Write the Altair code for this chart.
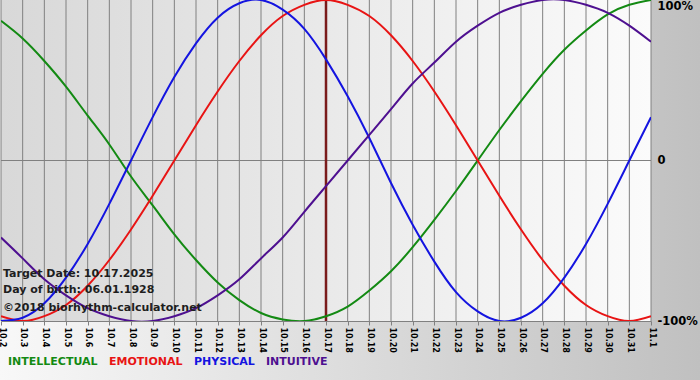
import altair as alt
import pandas as pd

dates = ["10.2", "10.3", "10.4", "10.5", "10.6", "10.7", "10.8", "10.9", "10.10", "10.11",
         "10.12", "10.13", "10.14", "10.15", "10.16", "10.17", "10.18", "10.19", "10.20",
         "10.21", "10.22", "10.23", "10.24", "10.25", "10.26", "10.27", "10.28", "10.29",
         "10.30", "10.31", "11.1"]

intellectual = [0.87, 0.76, 0.62, 0.46, 0.28, 0.10, -0.10, -0.28, -0.46, -0.62, -0.76, -0.87,
                -0.95, -0.99, -1.0, -0.97, -0.91, -0.81, -0.69, -0.54, -0.37, -0.19, 0.0, 0.19,
                0.37, 0.54, 0.69, 0.81, 0.91, 0.97, 1.0]
emotional = [-0.97, -1.0, -0.97, -0.90, -0.78, -0.62, -0.43, -0.22, 0.0, 0.22, 0.43, 0.62, 0.78,
             0.90, 0.97, 1.0, 0.97, 0.90, 0.78, 0.62, 0.43, 0.22, 0.0, -0.22, -0.43, -0.62, -0.78,
             -0.90, -0.97, -1.0, -0.97]
physical = [-1.0, -0.98, -0.89, -0.73, -0.52, -0.27, 0.0, 0.27, 0.52, 0.73, 0.89, 0.98, 1.0, 0.94,
            0.82, 0.63, 0.40, 0.14, -0.14, -0.40, -0.63, -0.82, -0.94, -1.0, -0.98, -0.89, -0.73,
            -0.52, -0.27, 0.0, 0.27]
intuitive = [-0.48, -0.61, -0.74, -0.84, -0.92, -0.97, -1.0, -1.0, -0.97, -0.92, -0.84, -0.74,
             -0.61, -0.48, -0.32, -0.16, 0.0, 0.16, 0.32, 0.48, 0.61, 0.74, 0.84, 0.92, 0.97, 1.0,
             1.0, 0.97, 0.92, 0.84, 0.74]

series_names = ["INTELLECTUAL", "EMOTIONAL", "PHYSICAL", "INTUITIVE"]
series_colors = ["#138a13", "#e81414", "#1414e0", "#4e1090"]
series_values = [intellectual, emotional, physical, intuitive]

target_label = "10.17"
y_ticks = [-1, 0, 1]
y_tick_labels = ["-100%", "0", "100%"]
info_lines = ["Target Date: 10.17.2025", "Day of birth: 06.01.1928", "\u00a92018 biorhythm-calculator.net"]

rows = []
for name, vals in zip(series_names, series_values):
    for i, (d, v) in enumerate(zip(dates, vals)):
        rows.append({"date": d, "idx": i, "value": v, "series": name})
df = pd.DataFrame(rows)
grid_df = pd.DataFrame({"date": dates})
target_df = pd.DataFrame({"date": [target_label]})
one = pd.DataFrame({"a": [0]})

FONT = "DejaVu Sans"

x_enc = alt.X(
    "date:O",
    sort=dates,
    scale=alt.Scale(type="point", domain=dates, padding=0),
    axis=alt.Axis(
        title=None, grid=False, labelAngle=90, labelAlign="left", labelBaseline="middle",
        labelPadding=2, tickSize=4, tickColor="#808080", domainColor="#808080",
        labelFont=FONT, labelFontSize=8, labelFontWeight="bold", labelColor="#000000",
        labelOverlap=False, labelBound=False, zindex=1,
    ),
)

label_expr = " : ".join(
    f"datum.value == {v} ? '{t}'" for v, t in zip(y_ticks, y_tick_labels)
) + " : ''"

y_scale = alt.Scale(domain=[-1, 1], nice=False, zero=False)
y_enc = alt.Y(
    "value:Q",
    scale=y_scale,
    axis=alt.Axis(
        title=None, orient="right", values=y_ticks, labelExpr=label_expr, grid=False,
        ticks=False, domain=False, labelPadding=6, labelFont=FONT, labelFontSize=11.5,
        labelFontWeight="bold", labelColor="#000000", zindex=1, labelOffset=0,
        labelBaseline={"condition": {"test": "datum.value == 1", "value": "top"}, "value": "middle"},
    ),
)

outer_bg = alt.Chart(one).mark_rect(
    color=alt.LinearGradient(
        gradient="linear", x1=0, x2=1, y1=0, y2=0,
        stops=[alt.GradientStop(color="#f8f8f8", offset=0), alt.GradientStop(color="#c0c0c0", offset=1)],
    )
).encode(x=alt.value(-1), x2=alt.value(699), y=alt.value(0), y2=alt.value(380))

plot_bg = alt.Chart(one).mark_rect(
    color=alt.LinearGradient(
        gradient="linear", x1=0, x2=1, y1=0, y2=0,
        stops=[alt.GradientStop(color="#d8d8d8", offset=0), alt.GradientStop(color="#fbfbfb", offset=1)],
    )
).encode(x=alt.value(0), x2=alt.value("width"), y=alt.value(0), y2=alt.value("height"))

grid = alt.Chart(grid_df).mark_rule(color="#808080", strokeWidth=1).encode(x=x_enc)

zero_line = alt.Chart(one).mark_rule(color="#808080", strokeWidth=1).encode(
    y=alt.datum(0, scale=y_scale)
)

marker = alt.Chart(target_df).mark_rule(color="#7a1c1c", strokeWidth=2.5).encode(x=x_enc)

color_expr = " : ".join(
    f"datum.label == '{n}' ? '{c}'" for n, c in zip(series_names[:-1], series_colors[:-1])
) + f" : '{series_colors[-1]}'"

lines = alt.Chart(df).mark_line(strokeWidth=2, interpolate="natural", clip=True).encode(
    x=x_enc,
    y=y_enc,
    color=alt.Color(
        "series:N",
        sort=series_names,
        scale=alt.Scale(domain=series_names, range=series_colors),
        legend=alt.Legend(
            title=None, orient="none", legendX=-4, legendY=356, direction="horizontal",
            symbolSize=0, symbolStrokeWidth=0, symbolOpacity=0, labelOffset=0,
            columnPadding=-3, padding=0, labelFont=FONT, labelFontSize=11,
            labelFontWeight="bold", labelColor=alt.ExprRef(color_expr), labelLimit=0,
        ),
    ),
    order=alt.Order("idx:Q"),
)

def info(text, ypos):
    return alt.Chart(one).mark_text(
        text=text, align="left", baseline="alphabetic", font=FONT, fontSize=11,
        fontWeight="bold", color="#1e1e1e",
    ).encode(x=alt.value(2), y=alt.value(ypos))

texts = info(info_lines[0], 277) + info(info_lines[1], 293) + info(info_lines[2], 311)

chart = alt.layer(outer_bg, plot_bg, grid, zero_line, marker, lines, texts).properties(
    width=650, height=321, autosize="none",
    padding={"left": 1, "top": 0, "right": 49, "bottom": 59},
    background="#d0d0d0",
).configure_view(stroke=None)

chart.save("out.html", embed_options={"renderer": "svg", "actions": False})
